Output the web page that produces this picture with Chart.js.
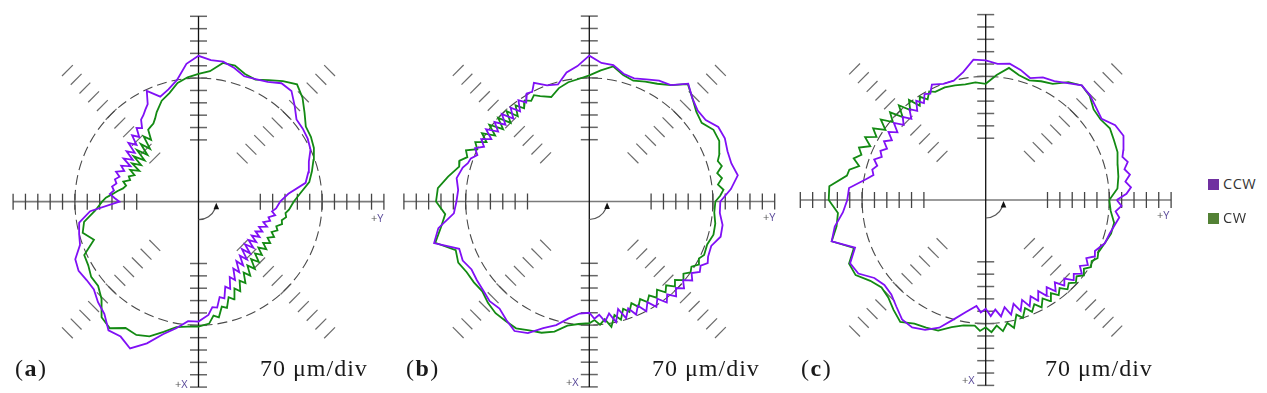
<!DOCTYPE html>
<html>
<head>
<meta charset="utf-8">
<script src="https://cdn.jsdelivr.net/npm/chart.js@4.4.1/dist/chart.umd.min.js"></script>
<style>
  body { margin: 0; background: #fff; }
  #page { position: relative; width: 1267px; height: 393px; overflow: hidden; background: #fff; }
  canvas { position: absolute; top: 0; }
  .tag { position: absolute; font-family: "Liberation Serif", "Times New Roman", serif; font-size: 24px; line-height: 24px; color: #1a1a1a; white-space: nowrap; }
  .tag.letter { letter-spacing: 1.5px; }
  .tag.scale { letter-spacing: 1px; }
  .ax { position: absolute; font-family: "Open Sans", sans-serif; font-size: 11px; line-height: 11px; color: #555; white-space: nowrap; }
  .ax span { color: #5a4a9a; }
  .leg { position: absolute; left: 1208px; font-family: "Open Sans", sans-serif; font-size: 14.5px; line-height: 15px; color: #333; white-space: nowrap; letter-spacing: 0.5px; }
  .leg i { display: inline-block; width: 11px; height: 11px; margin-right: 4px; vertical-align: -1px; }
</style>
</head>
<body>
<div id="page">
  <canvas id="pa" width="393" height="393" style="left:0px"></canvas>
  <canvas id="pb" width="397" height="393" style="left:393px"></canvas>
  <canvas id="pc" width="400" height="393" style="left:790px"></canvas>

  <div class="tag letter" style="left:15px;top:356px">(<b>a</b>)</div>
  <div class="tag scale" style="left:260px;top:356px">70 μm/div</div>
  <div class="tag letter" style="left:406px;top:356px">(<b>b</b>)</div>
  <div class="tag scale" style="left:652px;top:356px">70 μm/div</div>
  <div class="tag letter" style="left:801px;top:356px">(<b>c</b>)</div>
  <div class="tag scale" style="left:1045px;top:356px">70 μm/div</div>

  <div class="ax" style="left:371px;top:212px">+<span>Y</span></div>
  <div class="ax" style="left:175px;top:378px">+<span>X</span></div>
  <div class="ax" style="left:763px;top:211px">+<span>Y</span></div>
  <div class="ax" style="left:566px;top:376px">+<span>X</span></div>
  <div class="ax" style="left:1157px;top:209px">+<span>Y</span></div>
  <div class="ax" style="left:962px;top:374px">+<span>X</span></div>

  <div class="leg" style="top:176px"><i style="background:#7030a0"></i>CCW</div>
  <div class="leg" style="top:210px"><i style="background:#538135"></i>CW</div>
</div>

<script>
// each trace: [machine angle in degrees (0 = +Y, 90 = up), plotted radius in divisions]
// 70 um/div, nominal circle drawn at 10 divisions
const ccwA = [
  [0, 6.6], [5, 7.3], [10, 8.8], [15, 9.2], [20, 9.5], [25, 10.0], [30, 10.2], [35, 10.3], [40, 10.35], [45, 11.0], [50, 11.7], [55, 11.7],
  [60, 11.2], [65, 10.95], [70, 10.8], [75, 11.2], [80, 11.5], [85, 11.5], [90, 11.8], [95, 11.2], [100, 10.0], [105, 9.4], [110, 9.05], [115, 9.9],
  [117.5, 8.9], [120, 8.6], [122.5, 8.3], [125, 8.1], [127.5, 7.5], [130, 7.8], [132.5, 7.1], [135, 7.6], [137.5, 6.8], [140, 7.4], [142.5, 6.5], [145, 7.1],
  [147.5, 6.3], [150, 7.0], [152.5, 6.2], [155, 6.9], [157.5, 6.5], [160, 7.1], [162.5, 6.7], [165, 7.0], [167.5, 6.8], [170, 7.1], [172.5, 6.9], [175, 7.2], [177.5, 6.8],
  [180, 6.4], [185, 8.8], [190, 9.8], [195, 10.0], [200, 10.2], [205, 11.0], [210, 11.2], [215, 11.05], [220, 11.05], [225, 11.5], [230, 11.85], [235, 12.7],
  [240, 12.6], [245, 13.1], [250, 12.2], [255, 11.1], [260, 10.4], [265, 9.7], [270, 9.7], [275, 9.2],
  [277.5, 8.6], [280, 8.7], [282.5, 7.9], [285, 8.1], [287.5, 7.2], [290, 7.5], [292.5, 6.6], [295, 7.0], [297.5, 6.1], [300, 6.6], [302.5, 5.7], [305, 6.3],
  [307.5, 5.5], [310, 6.1], [312.5, 5.2], [315, 5.9], [317.5, 5.1], [320, 5.8], [322.5, 5.1], [325, 5.7], [327.5, 5.1], [330, 5.7], [332.5, 5.2], [335, 5.7],
  [337.5, 5.3], [340, 5.9], [342.5, 5.5], [345, 6.0], [347.5, 5.8], [350, 6.3], [352.5, 6.0], [355, 6.3]
];
const cwA = [
  [0, 7.7], [5, 8.3], [10, 9.1], [15, 9.5], [20, 9.9], [25, 10.3], [30, 10.5], [35, 10.6], [40, 11.2], [45, 11.9], [50, 12.4], [55, 11.9],
  [60, 11.35], [65, 10.9], [70, 11.0], [75, 11.4], [80, 11.4], [85, 10.6], [90, 10.35], [95, 10.1], [100, 9.75], [105, 9.1], [110, 8.7], [115, 8.0],
  [117.5, 7.6], [120, 7.3], [122.5, 7.2], [125, 7.1], [127.5, 6.3], [130, 6.9], [132.5, 5.8], [135, 6.6], [137.5, 5.6], [140, 6.5], [142.5, 5.5], [145, 6.4],
  [147.5, 5.5], [150, 6.2], [152.5, 5.4], [155, 6.1], [157.5, 5.6], [160, 6.0], [162.5, 5.8], [165, 6.3], [167.5, 6.0], [170, 6.2], [172.5, 6.6], [175, 7.0], [177.5, 7.5],
  [180, 7.8], [185, 8.4], [190, 9.4], [195, 9.7], [200, 9.0], [205, 10.2], [210, 10.3], [215, 10.6], [220, 10.6], [225, 11.1], [230, 12.2], [235, 12.5],
  [240, 11.8], [245, 11.9], [250, 11.6], [255, 10.9], [260, 10.3], [265, 10.15], [270, 10.1], [275, 9.9],
  [277.5, 9.3], [280, 9.5], [282.5, 8.7], [285, 8.9], [287.5, 8.1], [290, 8.4], [292.5, 7.6], [295, 8.0], [297.5, 7.2], [300, 7.6], [302.5, 6.8], [305, 7.3],
  [307.5, 6.5], [310, 7.1], [312.5, 6.3], [315, 6.9], [317.5, 6.2], [320, 6.7], [322.5, 6.1], [325, 6.7], [327.5, 6.2], [330, 6.7], [332.5, 6.3], [335, 6.75],
  [337.5, 6.4], [340, 6.8], [342.5, 6.6], [345, 7.0], [347.5, 6.9], [350, 7.2], [352.5, 7.1], [355, 7.35]
];
const ccwB = [
  [0, 10.6], [5, 11.5], [10, 12.2], [15, 11.9], [20, 11.9], [25, 12.1], [30, 12.05], [35, 11.5], [40, 11.45], [45, 11.8], [50, 12.45], [55, 11.5],
  [60, 11.3], [65, 10.9], [70, 10.6], [75, 10.7], [80, 11.2], [85, 11.25], [90, 11.8], [95, 11.0], [100, 10.6], [105, 9.8], [110, 10.0], [115, 10.6],
  [117.5, 10.0], [120, 10.1], [122.5, 9.5], [125, 10.0], [127.5, 9.2], [130, 9.9], [132.5, 9.1], [135, 10.0], [137.5, 9.2], [140, 10.0], [142.5, 9.3], [145, 10.2],
  [147.5, 9.4], [150, 10.1], [152.5, 9.6], [155, 10.2], [157.5, 9.8], [160, 10.2], [162.5, 10.3], [165, 10.6],
  [170, 10.9], [175, 10.65], [180, 10.75], [185, 11.0], [190, 12.4], [195, 13.0], [200, 11.2], [205, 11.3], [210, 11.0], [215, 11.1], [220, 11.2], [225, 11.4],
  [230, 11.3], [235, 11.7], [240, 12.1], [245, 11.75], [250, 10.9], [255, 10.35], [260, 9.6], [265, 9.1],
  [270, 9.0], [272.5, 9.5], [275, 9.2], [277.5, 9.8], [280, 9.2], [282.5, 10.0], [285, 9.0], [287.5, 9.9], [290, 9.2], [292.5, 9.9], [295, 9.3], [297.5, 10.0],
  [300, 9.4], [302.5, 10.1], [305, 9.6], [307.5, 10.3], [310, 9.8], [312.5, 10.4], [315, 9.9], [317.5, 10.4], [320, 9.9], [322.5, 10.5], [325, 10.1], [327.5, 10.6],
  [330, 10.4], [332.5, 10.8], [335, 10.6], [340, 10.5], [345, 11.0], [350, 10.95], [355, 10.6]
];
const cwB = [
  [0, 10.2], [2.5, 10.6], [5, 10.9], [7.5, 10.5], [10, 10.9], [12.5, 10.6], [15, 11.1], [17.5, 10.9], [20, 11.2], [25, 11.6], [30, 11.6], [35, 11.1],
  [40, 11.3], [45, 11.8], [50, 12.4], [55, 11.5], [60, 11.0], [65, 10.7], [70, 10.4], [75, 10.6], [80, 11.1], [85, 10.65], [90, 10.2], [95, 9.95],
  [100, 9.8], [105, 9.5], [110, 9.0], [115, 9.4],
  [117.5, 9.7], [120, 9.4], [122.5, 9.7], [125, 9.2], [127.5, 9.8], [130, 9.0], [132.5, 9.9], [135, 9.0], [137.5, 10.0], [140, 9.1], [142.5, 10.2], [145, 9.3],
  [147.5, 10.3], [150, 9.6], [152.5, 10.4], [155, 10.0], [157.5, 10.8], [160, 10.5], [162.5, 11.0], [165, 10.9],
  [170, 11.6], [175, 12.3], [180, 12.4], [185, 11.7], [190, 12.2], [195, 12.9], [200, 11.5], [205, 11.7], [210, 11.45], [215, 11.4], [220, 11.3], [225, 11.6],
  [230, 11.8], [235, 11.8], [240, 11.85], [245, 11.5], [250, 11.3], [255, 10.9], [260, 10.2], [265, 9.95],
  [270, 9.85], [272.5, 9.6], [275, 10.0], [277.5, 9.6], [280, 10.3], [282.5, 9.4], [285, 9.9], [287.5, 9.1], [290, 9.5], [292.5, 8.9], [295, 9.4], [297.5, 8.9],
  [300, 9.4], [302.5, 9.0], [305, 9.5], [307.5, 9.0], [310, 9.6], [312.5, 9.2], [315, 9.7], [317.5, 9.4], [320, 9.9], [322.5, 9.6], [325, 10.0], [327.5, 9.8],
  [330, 10.2], [332.5, 10.0], [335, 10.25], [340, 10.15], [345, 10.4], [350, 10.35], [355, 10.15]
];
const ccwC = [
  [0, 10.6], [2.5, 11.4], [5, 11.8], [7.5, 11.4], [10, 11.85], [12.5, 11.5], [15, 11.9], [17.5, 11.6], [20, 11.85], [25, 12.3], [30, 12.1], [35, 11.45],
  [40, 11.65], [45, 11.95], [50, 12.1], [55, 11.55], [60, 11.1], [65, 10.95], [70, 10.5], [75, 10.9], [80, 11.2], [85, 11.05], [90, 11.3], [95, 11.4],
  [100, 10.5], [105, 10.0], [110, 10.0], [115, 10.3],
  [117.5, 9.7], [120, 9.9], [122.5, 9.3], [125, 9.8], [127.5, 9.1], [130, 9.6], [132.5, 8.9], [135, 9.5], [137.5, 9.0], [140, 9.7], [142.5, 9.0], [145, 9.6],
  [147.5, 9.0], [150, 9.5], [152.5, 9.0], [155, 9.4], [157.5, 9.1], [160, 9.6], [162.5, 9.2], [165, 9.5], [167.5, 9.3], [170, 9.8],
  [175, 11.1], [180, 11.2], [185, 11.6], [190, 12.4], [195, 12.9], [200, 11.25], [205, 12.1], [210, 11.9], [215, 11.0], [220, 10.7], [225, 10.8], [230, 11.25],
  [235, 11.8], [240, 11.9], [245, 11.6], [250, 11.0], [255, 10.0], [260, 9.2],
  [265, 8.6], [267.5, 9.1], [270, 8.8], [272.5, 9.4], [275, 8.9], [277.5, 9.5], [280, 8.8], [282.5, 9.5], [285, 8.7], [287.5, 9.4], [290, 8.6], [292.5, 9.3],
  [295, 8.6], [297.5, 9.2], [300, 8.5], [302.5, 9.2], [305, 8.6], [307.5, 9.3], [310, 8.7], [312.5, 9.4], [315, 9.0], [317.5, 9.6], [320, 9.3], [322.5, 9.8],
  [325, 9.3], [327.5, 9.8], [330, 9.4], [332.5, 9.9], [335, 9.75], [340, 10.25], [345, 10.4], [350, 10.7], [352.5, 10.9], [355, 10.55], [357.5, 11.0]
];
const cwC = [
  [0, 10.0], [5, 10.7], [10, 10.9], [15, 11.05], [20, 11.35], [25, 11.45], [30, 11.6], [35, 11.35], [40, 11.4], [45, 11.9], [50, 12.1], [55, 11.65],
  [60, 10.85], [65, 10.6], [70, 10.3], [75, 10.45], [80, 10.85], [85, 10.15], [90, 9.4], [95, 9.55], [100, 9.5], [105, 9.6], [110, 9.7], [115, 9.65],
  [117.5, 9.9], [120, 9.4], [122.5, 9.9], [125, 9.3], [127.5, 10.2], [130, 9.5], [132.5, 10.4], [135, 9.5], [137.5, 10.5], [140, 9.8], [142.5, 10.7], [145, 9.9],
  [147.5, 10.8], [150, 10.2], [152.5, 11.0], [155, 10.3], [157.5, 11.1], [160, 10.7], [162.5, 11.2], [165, 10.6], [167.5, 11.3], [170, 11.4],
  [175, 12.7], [180, 12.7], [185, 12.0], [190, 12.25], [195, 12.9], [200, 11.35], [205, 12.2], [210, 12.15], [215, 11.4], [220, 11.0], [225, 11.15], [230, 11.6],
  [235, 12.05], [240, 11.55], [245, 11.4], [250, 11.25], [255, 10.65], [260, 10.3],
  [265, 10.2], [267.5, 10.6], [270, 10.3], [272.5, 10.7], [275, 10.2], [277.5, 10.7], [280, 10.1], [282.5, 10.6], [285, 9.6], [287.5, 10.0], [290, 9.3], [292.5, 9.8],
  [295, 9.3], [297.5, 9.8], [300, 9.2], [302.5, 9.7], [305, 9.2], [307.5, 9.7], [310, 9.3], [312.5, 9.8], [315, 9.5], [317.5, 9.9], [320, 9.6], [322.5, 10.0],
  [325, 9.7], [327.5, 10.1], [330, 9.9], [332.5, 10.2], [335, 10.05], [340, 10.25], [345, 10.5], [350, 10.55], [355, 10.15]
];

// axis ticks / diagonal marks, in divisions from the centre
const tickDivs = [5, 6, 7, 8, 9, 10, 11, 12, 13, 14, 15];
const diagonals = [45, 135, 225, 315];
const axisEnd = 15;
const refCircle = 10;

const DIV = 12.36;   // pixels per division
const H = 393;

const panels = [
  { id: 'pa', left: 0,   width: 393, cx: 198.5, cy: 201.7, ccw: ccwA, cw: cwA },
  { id: 'pb', left: 393, width: 397, cx: 589.3, cy: 201.5, ccw: ccwB, cw: cwB },
  { id: 'pc', left: 790, width: 400, cx: 985.7, cy: 200.0, ccw: ccwC, cw: cwC }
];

function toXY(trace) {
  const pts = trace.map(([a, r]) => {
    const t = a * Math.PI / 180;
    return { x: r * Math.cos(t), y: r * Math.sin(t) };
  });
  pts.push(pts[0]);
  return pts;
}

// 坐标系：轴、刻度、对角刻线、参考圆、方向箭头
const framePlugin = {
  id: 'frame',
  beforeDatasetsDraw(chart) {
    const { ctx, scales: { x, y } } = chart;
    const px = v => x.getPixelForValue(v);
    const py = v => y.getPixelForValue(v);
    const x0 = px(0), y0 = py(0), unit = px(1) - px(0);
    ctx.save();

    // diagonal marks
    ctx.strokeStyle = '#6b6b6b';
    ctx.lineWidth = 1.2;
    const half = 0.62 * unit;
    diagonals.forEach(d => {
      const t = d * Math.PI / 180, c = Math.cos(t), s = Math.sin(t);
      tickDivs.forEach(r => {
        const mx = px(r * c), my = py(r * s);
        ctx.beginPath();
        ctx.moveTo(mx - s * half, my - c * half);
        ctx.lineTo(mx + s * half, my + c * half);
        ctx.stroke();
      });
    });

    // reference circle
    ctx.strokeStyle = '#4a4a4a';
    ctx.lineWidth = 1.1;
    ctx.setLineDash([10, 5]);
    ctx.beginPath();
    ctx.arc(x0, y0, refCircle * unit, 0, Math.PI * 2);
    ctx.stroke();
    ctx.setLineDash([]);

    // horizontal axis + ticks
    ctx.strokeStyle = '#7a7a7a';
    ctx.lineWidth = 1.7;
    ctx.beginPath();
    ctx.moveTo(px(-axisEnd), y0);
    ctx.lineTo(px(axisEnd), y0);
    ctx.stroke();
    ctx.strokeStyle = '#444';
    ctx.lineWidth = 1.3;
    tickDivs.forEach(r => {
      [-r, r].forEach(v => {
        ctx.beginPath();
        ctx.moveTo(px(v), y0 - 8);
        ctx.lineTo(px(v), y0 + 8);
        ctx.stroke();
      });
    });

    // vertical axis + ticks
    ctx.strokeStyle = '#666';
    ctx.lineWidth = 1.5;
    tickDivs.forEach(r => {
      [-r, r].forEach(v => {
        ctx.beginPath();
        ctx.moveTo(x0 - 8.5, py(v));
        ctx.lineTo(x0 + 8.5, py(v));
        ctx.stroke();
      });
    });
    ctx.strokeStyle = '#111';
    ctx.lineWidth = 1.3;
    ctx.beginPath();
    ctx.moveTo(x0, py(axisEnd));
    ctx.lineTo(x0, py(-axisEnd));
    ctx.stroke();

    // direction arrow
    ctx.strokeStyle = '#555';
    ctx.lineWidth = 1.2;
    ctx.beginPath();
    ctx.arc(x0, y0, 18, Math.PI / 2, 0.4, true);
    ctx.stroke();
    ctx.fillStyle = '#111';
    ctx.beginPath();
    ctx.moveTo(x0 + 17.8, y0 + 1);
    ctx.lineTo(x0 + 15.0, y0 + 7.5);
    ctx.lineTo(x0 + 20.6, y0 + 7.5);
    ctx.closePath();
    ctx.fill();

    ctx.restore();
  }
};

panels.forEach(p => {
  const ox = p.cx - p.left;
  new Chart(document.getElementById(p.id), {
    type: 'scatter',
    data: {
      datasets: [
        {
          label: 'CCW',
          data: toXY(p.ccw),
          showLine: true,
          borderColor: '#8010f5',
          borderWidth: 1.8,
          pointRadius: 0,
          tension: 0,
          fill: false
        },
        {
          label: 'CW',
          data: toXY(p.cw),
          showLine: true,
          borderColor: '#138a13',
          borderWidth: 1.8,
          pointRadius: 0,
          tension: 0,
          fill: false
        }
      ]
    },
    options: {
      responsive: false,
      animation: false,
      devicePixelRatio: 1,
      layout: { padding: 0 },
      plugins: { legend: { display: false }, tooltip: { enabled: false } },
      scales: {
        x: { type: 'linear', display: false, min: -ox / DIV, max: (p.width - ox) / DIV },
        y: { type: 'linear', display: false, min: -(H - p.cy) / DIV, max: p.cy / DIV }
      }
    },
    plugins: [framePlugin]
  });
});
</script>
</body>
</html>
